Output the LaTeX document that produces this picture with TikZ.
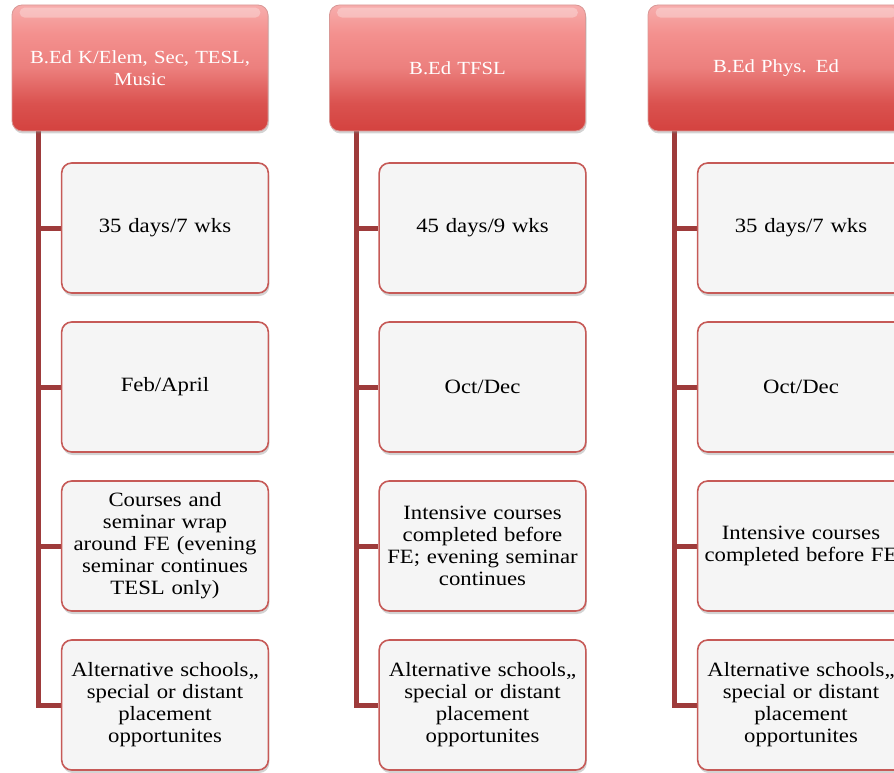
\documentclass[tikz,border=0pt]{standalone}
\usepackage{fontspec}
\setmainfont[FakeStretch=1.12]{Liberation Serif}
\usetikzlibrary{shadows,backgrounds}

\definecolor{hdtop}{HTML}{F7ADAC}
\definecolor{hdpink}{HTML}{F4918F}
\definecolor{hdmid}{HTML}{EC7F7D}
\definecolor{hdred}{HTML}{DA524F}
\definecolor{hdbot}{HTML}{D4423F}
\definecolor{hdline}{HTML}{D99896}
\definecolor{boxline}{HTML}{C65A57}
\definecolor{boxfill}{HTML}{F5F5F5}
\definecolor{conncol}{HTML}{9E3B3B}

\pgfdeclareverticalshading{hdshade}{100bp}{%
  color(0bp)=(hdbot); color(25bp)=(hdbot); color(36bp)=(hdred);
  color(50bp)=(hdmid); color(64bp)=(hdpink); color(75bp)=(hdtop); color(100bp)=(hdtop)}

\tikzset{
  header/.style={rounded corners=10pt, minimum width=256pt, minimum height=126pt,
    shading=hdshade, draw=hdline, line width=0.8pt,
    text=white, font=\fontsize{18.5}{22}\selectfont, align=center, text width=236pt,
    drop shadow={shadow xshift=1pt, shadow yshift=-2.5pt, opacity=0.35}},
  item/.style={rounded corners=10pt, minimum width=206pt, minimum height=130pt,
    fill=boxfill, draw=boxline, line width=1.6pt,
    text=black, font=\fontsize{20.3}{22}\selectfont, align=center, text width=200pt,
    drop shadow={shadow xshift=1pt, shadow yshift=-3pt, opacity=0.35}},
  conn/.style={draw=conncol, line width=5pt},
  gloss/.style={white, opacity=0.3, rounded corners=5pt},
}

\begin{document}
\begin{tikzpicture}[x=1pt, y=-1pt]
\useasboundingbox (0,0) rectangle (894,773);
\clip (0,0) rectangle (894,773);

% column headers
\node[header] (h1) at (140,68) {B.Ed K/Elem, Sec, TESL,\\Music};
\node[header] (h2) at (457.5,68) {B.Ed TFSL};
\node[header] (h3) at (776,68) {B.Ed Phys. Ed};

% glossy band along the top of each header
\foreach \h in {h1,h2,h3}{
  \fill[gloss]
    ([xshift=8pt,yshift=-3pt]\h.north west) rectangle ([xshift=-8pt,yshift=-13pt]\h.north east);
}

% column 1
\node[item] (c11) at (165,228) {35 days/7 wks};
\node[item] (c12) at (165,387) {Feb/April};
\node[item] (c13) at (165,546) {Courses and\\seminar wrap\\around FE (evening\\seminar continues\\TESL only)};
\node[item] (c14) at (165,705) {Alternative schools,,\\special or distant\\placement\\opportunites};

% column 2
\node[item] (c21) at (482.5,228) {45 days/9 wks};
\node[item] (c22) at (482.5,387) {Oct/Dec};
\node[item] (c23) at (482.5,546) {Intensive courses\\completed before\\FE; evening seminar\\continues};
\node[item] (c24) at (482.5,705) {Alternative schools,,\\special or distant\\placement\\opportunites};

% column 3
\node[item] (c31) at (801,228) {35 days/7 wks};
\node[item] (c32) at (801,387) {Oct/Dec};
\node[item] (c33) at (801,546) {Intensive courses\\completed before FE};
\node[item] (c34) at (801,705) {Alternative schools,,\\special or distant\\placement\\opportunites};

% tree connectors, kept behind the boxes
\coordinate (t1) at (38,131);
\coordinate (t2) at (356,131);
\coordinate (t3) at (674,131);
\begin{scope}[on background layer]
\foreach \t/\c in {t1/c1, t2/c2, t3/c3}{
  \draw[conn] (\t) |- (\c4.west);
  \draw[conn] (\t |- \c1.west) -- (\c1.west);
  \draw[conn] (\t |- \c2.west) -- (\c2.west);
  \draw[conn] (\t |- \c3.west) -- (\c3.west);
}
\end{scope}
\end{tikzpicture}
\end{document}
